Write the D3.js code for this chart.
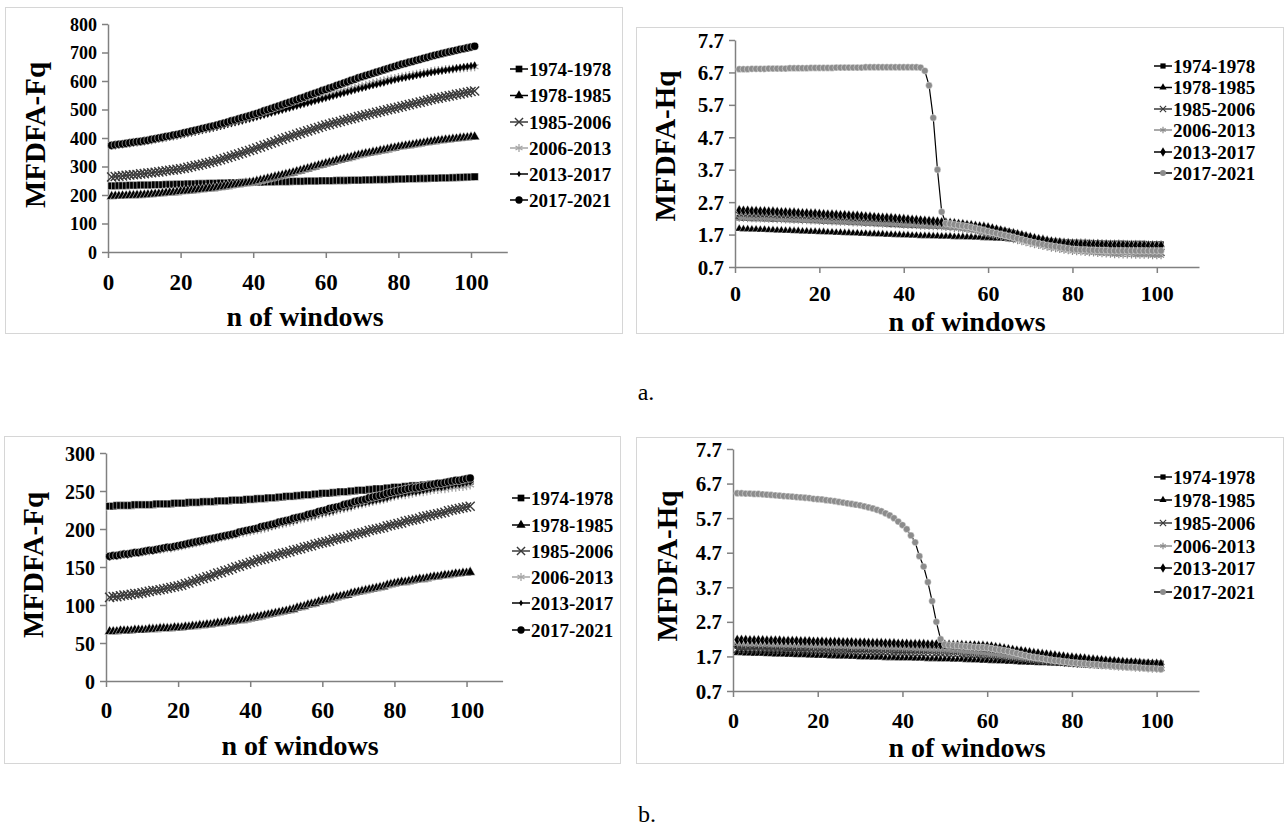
<!DOCTYPE html>
<html><head><meta charset="utf-8">
<script src="https://cdn.jsdelivr.net/npm/d3@7"></script>
<style>body{margin:0;background:#fff}svg{display:block}
svg text{font-family:"Liberation Serif","Times New Roman","DejaVu Serif",serif;}
</style>
</head><body>
<script>
// ---------------- DATA ----------------
const seriesNames = ["1974-1978","1978-1985","1985-2006","2006-2013","2013-2017","2017-2021"];
const xTicks = [0,20,40,60,80,100];
const fqTicksA = [0,100,200,300,400,500,600,700,800];
const fqTicksB = [0,50,100,150,200,250,300];
const hqTicks = [0.7,1.7,2.7,3.7,4.7,5.7,6.7,7.7];
const firstWindow = 1; // x of first point (n of windows = 1..101)

// panel a, MFDFA-Fq
const aFq1974 = [232,232,233,233,233,234,234,234,235,235,235,235,236,236,236,237,237,237,238,238,238,239,239,239,240,240,240,241,241,241,242,242,242,243,243,243,244,244,244,245,245,245,245,246,246,246,247,247,247,247,248,248,248,248,249,249,249,249,250,250,250,250,251,251,251,251,252,252,252,252,253,253,253,254,254,254,254,255,255,256,256,256,257,257,257,258,258,258,259,259,259,260,260,260,261,261,262,262,263,263,264];
const aFq1978 = [195,196,196,197,197,198,198,199,199,200,201,202,203,204,205,207,208,209,210,212,213,214,215,217,218,219,221,222,223,225,227,229,231,233,235,237,239,241,243,245,248,251,254,257,260,263,266,269,272,275,278,282,285,289,292,296,299,303,306,310,313,316,320,323,326,329,332,336,339,342,345,347,350,352,355,357,360,363,365,368,370,372,374,376,378,380,382,384,386,388,390,391,393,394,396,397,399,400,401,403,404];
const aFq1985 = [263,265,266,267,269,270,271,272,274,275,277,278,280,281,283,285,287,288,290,292,294,297,300,303,305,308,311,314,317,320,324,328,332,336,340,344,348,352,356,360,365,369,374,378,383,387,392,396,401,405,409,413,417,421,425,429,433,437,441,445,448,452,455,458,462,465,468,471,475,478,481,484,487,490,493,496,499,502,505,508,511,514,517,520,523,526,529,532,535,538,540,543,545,548,550,553,555,558,560,563,565];
const aFq2006 = [374,376,377,379,381,383,385,386,388,390,392,394,397,399,401,403,405,408,410,412,415,418,421,424,427,429,432,435,438,441,444,448,451,454,458,461,464,468,471,475,479,482,486,489,493,497,500,504,508,512,516,519,523,527,530,534,537,541,544,548,551,555,558,562,565,569,572,575,579,582,585,588,592,595,598,601,604,607,609,612,614,617,619,621,624,626,628,630,633,635,637,638,640,641,642,644,645,646,647,649,650];
const aFq2013 = [372,373,375,377,379,380,382,384,385,387,389,391,394,396,398,401,403,405,408,410,413,416,418,421,424,427,430,432,435,438,441,444,448,451,454,457,460,464,467,470,474,477,481,484,488,491,495,498,502,505,509,512,516,519,523,526,530,533,537,540,544,547,551,554,558,561,565,568,572,575,578,582,585,588,591,594,598,601,604,607,610,612,615,617,620,622,625,627,630,632,634,636,638,640,642,645,647,649,651,653,655];
const aFq2017 = [374,376,378,379,381,383,385,387,388,390,392,395,397,400,402,405,407,410,412,415,418,421,424,427,430,433,436,439,442,445,449,452,456,460,463,467,471,474,478,482,486,490,495,499,503,508,512,516,521,525,530,534,539,543,548,552,557,561,566,570,575,579,584,588,593,597,602,606,611,615,619,623,627,631,635,639,643,647,651,655,659,662,666,669,673,676,680,683,687,690,693,696,699,702,705,708,711,713,716,719,722];

// panel a, MFDFA-Hq
const aHq1974 = [2.22,2.21,2.21,2.20,2.20,2.20,2.19,2.19,2.18,2.18,2.18,2.17,2.17,2.16,2.16,2.15,2.15,2.14,2.14,2.13,2.12,2.12,2.11,2.11,2.10,2.10,2.09,2.08,2.08,2.07,2.06,2.06,2.05,2.04,2.04,2.03,2.02,2.02,2.01,2.00,2.00,1.99,1.99,1.98,1.98,1.97,1.97,1.96,1.96,1.95,1.94,1.94,1.93,1.93,1.92,1.91,1.91,1.90,1.89,1.88,1.87,1.85,1.83,1.81,1.78,1.75,1.71,1.68,1.64,1.60,1.57,1.55,1.53,1.51,1.50,1.49,1.48,1.47,1.47,1.46,1.46,1.45,1.45,1.45,1.44,1.44,1.44,1.43,1.43,1.43,1.43,1.43,1.42,1.42,1.42,1.42,1.42,1.41,1.41,1.41,1.41];
const aHq1978 = [1.88,1.87,1.87,1.86,1.86,1.85,1.85,1.84,1.84,1.83,1.83,1.82,1.82,1.81,1.81,1.80,1.80,1.79,1.79,1.78,1.78,1.77,1.77,1.76,1.76,1.75,1.75,1.74,1.74,1.73,1.73,1.72,1.72,1.71,1.71,1.70,1.70,1.69,1.69,1.68,1.68,1.67,1.67,1.66,1.66,1.66,1.65,1.65,1.64,1.64,1.64,1.63,1.63,1.63,1.62,1.62,1.61,1.61,1.60,1.60,1.59,1.58,1.58,1.57,1.56,1.55,1.55,1.54,1.53,1.52,1.51,1.51,1.50,1.49,1.49,1.48,1.47,1.46,1.46,1.45,1.45,1.44,1.44,1.43,1.43,1.43,1.42,1.42,1.41,1.41,1.41,1.40,1.40,1.40,1.40,1.39,1.39,1.39,1.39,1.38,1.38];
const aHq1985 = [2.30,2.30,2.29,2.29,2.28,2.28,2.28,2.27,2.27,2.26,2.25,2.25,2.24,2.24,2.23,2.23,2.22,2.21,2.21,2.20,2.19,2.19,2.18,2.18,2.17,2.17,2.16,2.15,2.15,2.14,2.13,2.12,2.12,2.11,2.10,2.10,2.09,2.08,2.08,2.07,2.06,2.06,2.05,2.04,2.04,2.03,2.02,2.02,2.01,2.00,1.99,1.98,1.97,1.95,1.94,1.93,1.91,1.89,1.87,1.85,1.82,1.79,1.76,1.73,1.70,1.67,1.64,1.61,1.58,1.55,1.52,1.49,1.46,1.43,1.41,1.38,1.36,1.34,1.32,1.30,1.29,1.28,1.27,1.26,1.25,1.24,1.23,1.22,1.21,1.20,1.20,1.19,1.19,1.18,1.18,1.17,1.17,1.16,1.16,1.15,1.15];
const aHq2006 = [2.20,2.20,2.19,2.19,2.18,2.18,2.18,2.17,2.17,2.16,2.16,2.15,2.15,2.14,2.14,2.13,2.13,2.12,2.12,2.11,2.10,2.10,2.09,2.09,2.08,2.08,2.07,2.06,2.06,2.05,2.04,2.04,2.03,2.03,2.02,2.02,2.01,2.00,2.00,1.99,1.98,1.98,1.97,1.96,1.96,1.95,1.94,1.94,1.93,1.92,1.91,1.89,1.88,1.86,1.84,1.82,1.80,1.77,1.75,1.72,1.69,1.66,1.63,1.60,1.57,1.54,1.51,1.48,1.45,1.42,1.39,1.36,1.33,1.31,1.28,1.26,1.24,1.22,1.20,1.18,1.17,1.16,1.15,1.14,1.13,1.12,1.11,1.10,1.09,1.08,1.08,1.07,1.07,1.07,1.06,1.06,1.06,1.06,1.05,1.05,1.05];
const aHq2013 = [2.45,2.44,2.44,2.43,2.43,2.42,2.42,2.41,2.41,2.40,2.39,2.39,2.38,2.38,2.37,2.36,2.36,2.35,2.35,2.34,2.33,2.32,2.32,2.31,2.30,2.30,2.29,2.28,2.28,2.27,2.26,2.25,2.24,2.23,2.22,2.22,2.21,2.20,2.19,2.18,2.17,2.16,2.15,2.14,2.13,2.12,2.11,2.10,2.08,2.07,2.06,2.05,2.03,2.02,2.00,1.99,1.97,1.95,1.94,1.92,1.89,1.86,1.83,1.80,1.77,1.74,1.71,1.68,1.65,1.62,1.59,1.56,1.54,1.51,1.49,1.47,1.46,1.44,1.43,1.42,1.42,1.41,1.41,1.40,1.40,1.40,1.39,1.39,1.38,1.38,1.38,1.38,1.37,1.37,1.37,1.37,1.37,1.36,1.36,1.36,1.36];
const aHq2017 = [6.80,6.80,6.80,6.81,6.81,6.81,6.81,6.82,6.82,6.82,6.82,6.82,6.83,6.83,6.83,6.83,6.83,6.84,6.84,6.84,6.84,6.84,6.84,6.85,6.85,6.85,6.85,6.85,6.85,6.85,6.86,6.86,6.86,6.86,6.86,6.86,6.86,6.86,6.86,6.86,6.86,6.86,6.86,6.85,6.75,6.30,5.30,3.70,2.40,2.05,2.03,2.01,1.99,1.97,1.95,1.93,1.90,1.87,1.84,1.80,1.77,1.74,1.71,1.68,1.65,1.62,1.58,1.55,1.51,1.48,1.45,1.42,1.40,1.37,1.35,1.33,1.31,1.29,1.27,1.25,1.24,1.23,1.23,1.22,1.22,1.21,1.21,1.21,1.20,1.20,1.20,1.20,1.20,1.20,1.20,1.20,1.20,1.20,1.20,1.20,1.20];

// panel b, MFDFA-Fq
const bFq1974 = [230,230,231,231,231,231,231,232,232,232,232,232,232,233,233,233,233,233,234,234,234,234,235,235,235,235,236,236,236,236,237,237,237,237,238,238,238,238,239,239,239,240,240,240,241,241,241,242,242,243,243,243,244,244,245,245,245,246,246,247,247,247,248,248,249,249,249,250,250,251,251,251,252,252,253,253,253,254,254,255,255,255,256,256,257,257,257,258,258,259,259,259,260,260,260,261,261,262,262,262,263];
const bFq1978 = [65,65,65,66,66,66,66,67,67,67,67,68,68,68,69,69,69,69,70,70,70,71,71,72,72,73,73,74,74,75,76,76,77,78,78,79,80,80,81,82,83,84,85,86,87,88,89,90,91,92,93,94,96,97,98,100,101,102,104,105,106,107,109,110,111,112,113,115,116,117,118,119,120,121,122,123,124,126,127,128,129,130,130,131,132,133,134,134,135,136,137,137,138,139,139,140,141,141,142,142,143];
const bFq1985 = [110,111,111,112,113,113,114,115,115,116,117,118,119,119,120,121,122,123,124,125,126,128,129,131,132,134,135,137,138,140,142,143,145,146,148,150,151,153,154,156,157,159,160,161,163,164,165,167,168,169,170,172,173,174,176,177,178,180,181,182,183,184,186,187,188,189,190,192,193,194,195,196,198,199,200,201,202,204,205,206,207,208,210,211,212,213,214,216,217,218,219,220,221,222,224,225,226,227,228,229,230];
const bFq2006 = [164,165,165,166,167,167,168,169,169,170,171,171,172,173,173,174,175,175,176,177,178,179,180,181,182,183,184,185,186,187,188,189,190,191,192,193,194,195,196,197,198,199,200,201,202,204,205,206,207,208,209,210,212,213,214,215,216,217,219,220,221,222,223,225,226,227,228,229,231,232,233,234,235,236,237,238,239,240,242,243,244,245,245,246,247,248,249,249,250,251,252,252,253,253,254,255,255,256,256,257,258];
const bFq2013 = [163,164,164,165,166,166,167,168,168,169,170,171,171,172,173,174,175,175,176,177,178,179,180,181,182,183,184,185,186,187,188,189,190,191,192,193,195,196,197,198,199,200,201,202,203,204,205,207,208,209,210,211,212,214,215,216,217,218,220,221,222,223,224,226,227,228,229,230,232,233,234,235,236,237,238,239,240,241,243,244,245,246,247,248,249,249,250,251,252,253,254,255,255,256,257,258,259,259,260,261,262];
const bFq2017 = [164,165,165,166,167,167,168,169,169,170,171,172,172,173,174,175,176,176,177,178,179,180,181,182,183,184,185,186,187,188,189,190,191,192,193,194,196,197,198,199,200,201,203,204,205,206,207,209,210,211,212,214,215,216,217,219,220,221,223,224,225,227,228,229,230,232,233,234,236,237,238,239,241,242,243,244,245,247,248,249,250,251,252,253,254,254,255,256,257,258,259,260,260,261,262,263,264,264,265,266,267];

// panel b, MFDFA-Hq
const bHq1974 = [2.00,2.00,2.00,1.99,1.99,1.99,1.99,1.98,1.98,1.98,1.98,1.98,1.97,1.97,1.97,1.97,1.97,1.96,1.96,1.96,1.96,1.96,1.95,1.95,1.95,1.95,1.95,1.94,1.94,1.94,1.94,1.94,1.93,1.93,1.93,1.93,1.93,1.92,1.92,1.92,1.92,1.92,1.91,1.91,1.91,1.91,1.91,1.90,1.90,1.90,1.90,1.90,1.89,1.89,1.89,1.89,1.89,1.88,1.88,1.88,1.87,1.86,1.84,1.83,1.82,1.81,1.80,1.78,1.77,1.76,1.75,1.74,1.72,1.71,1.70,1.69,1.68,1.66,1.65,1.64,1.63,1.62,1.61,1.60,1.59,1.59,1.58,1.57,1.56,1.55,1.55,1.54,1.54,1.53,1.53,1.52,1.52,1.51,1.51,1.50,1.50];
const bHq1978 = [1.80,1.80,1.79,1.79,1.78,1.78,1.78,1.77,1.77,1.76,1.76,1.76,1.75,1.75,1.74,1.74,1.74,1.73,1.73,1.72,1.72,1.72,1.71,1.71,1.70,1.70,1.70,1.69,1.69,1.68,1.68,1.68,1.67,1.67,1.67,1.66,1.66,1.66,1.65,1.65,1.65,1.65,1.64,1.64,1.64,1.63,1.63,1.63,1.62,1.62,1.62,1.61,1.61,1.61,1.60,1.60,1.59,1.59,1.58,1.58,1.57,1.57,1.56,1.56,1.55,1.55,1.54,1.53,1.53,1.52,1.52,1.51,1.51,1.51,1.50,1.50,1.49,1.49,1.48,1.48,1.48,1.47,1.47,1.47,1.47,1.46,1.46,1.46,1.45,1.45,1.45,1.45,1.44,1.44,1.44,1.44,1.44,1.43,1.43,1.43,1.43];
const bHq1985 = [1.90,1.90,1.90,1.89,1.89,1.89,1.89,1.88,1.88,1.88,1.88,1.88,1.87,1.87,1.87,1.87,1.87,1.86,1.86,1.86,1.86,1.86,1.85,1.85,1.85,1.85,1.85,1.84,1.84,1.84,1.84,1.84,1.83,1.83,1.83,1.83,1.83,1.82,1.82,1.82,1.82,1.82,1.81,1.81,1.81,1.81,1.81,1.80,1.80,1.80,1.79,1.78,1.78,1.77,1.76,1.75,1.75,1.74,1.73,1.72,1.71,1.70,1.69,1.67,1.66,1.65,1.64,1.63,1.61,1.60,1.59,1.58,1.57,1.56,1.55,1.54,1.53,1.52,1.51,1.50,1.49,1.48,1.48,1.47,1.46,1.46,1.45,1.44,1.44,1.43,1.43,1.42,1.42,1.41,1.41,1.40,1.40,1.39,1.39,1.38,1.38];
const bHq2006 = [2.05,2.05,2.04,2.04,2.04,2.03,2.03,2.03,2.02,2.02,2.02,2.01,2.01,2.01,2.00,2.00,2.00,1.99,1.99,1.99,1.99,1.98,1.98,1.98,1.97,1.97,1.97,1.96,1.96,1.96,1.96,1.95,1.95,1.95,1.94,1.94,1.94,1.93,1.93,1.93,1.92,1.92,1.91,1.91,1.90,1.90,1.89,1.89,1.88,1.88,1.87,1.86,1.85,1.84,1.83,1.82,1.81,1.80,1.79,1.78,1.76,1.75,1.73,1.71,1.70,1.68,1.67,1.65,1.64,1.62,1.61,1.60,1.58,1.57,1.56,1.55,1.54,1.52,1.51,1.50,1.49,1.48,1.47,1.46,1.45,1.44,1.43,1.42,1.41,1.40,1.39,1.38,1.38,1.37,1.36,1.35,1.35,1.34,1.33,1.33,1.32];
const bHq2013 = [2.18,2.18,2.18,2.17,2.17,2.17,2.17,2.16,2.16,2.16,2.16,2.15,2.15,2.15,2.15,2.14,2.14,2.14,2.13,2.13,2.13,2.12,2.12,2.12,2.12,2.11,2.11,2.11,2.10,2.10,2.10,2.09,2.09,2.09,2.09,2.08,2.08,2.08,2.07,2.07,2.07,2.06,2.06,2.06,2.06,2.05,2.05,2.05,2.04,2.04,2.04,2.03,2.03,2.03,2.02,2.02,2.02,2.01,2.01,2.00,1.99,1.97,1.95,1.93,1.91,1.89,1.87,1.86,1.84,1.82,1.80,1.79,1.77,1.76,1.74,1.73,1.71,1.70,1.68,1.67,1.66,1.65,1.64,1.62,1.61,1.60,1.59,1.58,1.57,1.56,1.55,1.54,1.53,1.53,1.52,1.51,1.50,1.50,1.49,1.49,1.48];
const bHq2017 = [6.42,6.42,6.41,6.41,6.40,6.40,6.39,6.38,6.37,6.36,6.35,6.34,6.33,6.32,6.31,6.30,6.29,6.28,6.26,6.25,6.24,6.22,6.21,6.19,6.17,6.15,6.13,6.11,6.09,6.07,6.04,6.01,5.98,5.94,5.90,5.84,5.78,5.70,5.60,5.50,5.38,5.20,5.00,4.60,4.30,3.85,3.30,2.70,2.20,2.05,2.03,2.02,2.01,2.00,1.99,1.98,1.97,1.96,1.96,1.95,1.93,1.91,1.89,1.87,1.85,1.82,1.79,1.76,1.73,1.70,1.68,1.66,1.64,1.62,1.60,1.58,1.57,1.55,1.54,1.52,1.51,1.50,1.49,1.48,1.47,1.46,1.45,1.44,1.43,1.42,1.41,1.40,1.39,1.39,1.38,1.37,1.36,1.35,1.35,1.34,1.33];

// ---------------- DRAWING ----------------
const svg = d3.select("body").append("svg").attr("width",1288).attr("height",829);

// marker styles per series (Fq and Hq variants)
const styleFq = [
  {sym:d3.symbolSquare,   size:56, fill:"#000", stroke:"#fff", sw:0.5, line:"#000"},
  {sym:d3.symbolTriangle, size:46, fill:"#000", stroke:"#fff", sw:0.5, line:"#000"},
  {sym:d3.symbolX,        size:56, fill:"none", stroke:"#3a3a3a", sw:1.4, line:"#3a3a3a"},
  {sym:d3.symbolAsterisk, size:56, fill:"none", stroke:"#a6a6a6", sw:1.3, line:"#a6a6a6"},
  {sym:d3.symbolDiamond,  size:16, fill:"#000", stroke:"#000", sw:0.3, line:"#000"},
  {sym:d3.symbolCircle,   size:52, fill:"#000", stroke:"#fff", sw:0.5, line:"#000"}
];
const styleHq = [
  {sym:d3.symbolSquare,   size:34, fill:"#000", stroke:"#fff", sw:0.4, line:"#000"},
  {sym:d3.symbolTriangle, size:28, fill:"#000", stroke:"#fff", sw:0.4, line:"#000"},
  {sym:d3.symbolX,        size:34, fill:"none", stroke:"#3a3a3a", sw:1.2, line:"#3a3a3a"},
  {sym:d3.symbolAsterisk, size:34, fill:"none", stroke:"#8c8c8c", sw:1.2, line:"#8c8c8c"},
  {sym:d3.symbolDiamond,  size:34, fill:"#000", stroke:"#fff", sw:0.4, line:"#000"},
  {sym:d3.symbolCircle,   size:36, fill:"#8c8c8c", stroke:"#fff", sw:0.4, line:"#000"}
];

const panels = [
  {box:[5,7,617,326], xr:[108,507.3], yr:[252,24], dom:[0,800], yt:fqTicksA, fmt:d3.format("d"),
   series:[aFq1974,aFq1978,aFq1985,aFq2006,aFq2013,aFq2017], st:styleFq,
   yFont:18, xFont:23, xLabY:282, yTitle:"MFDFA-Fq", yTitlePos:[35,135], xTitlePos:[305,316],
   legX:529, legY:[69,95.5,122,148,174,200], legFont:19},
  {box:[636,27,647,306], xr:[735,1199], yr:[267,40], dom:[0.7,7.7], yt:hqTicks, fmt:d3.format(".1f"),
   series:[aHq1974,aHq1978,aHq1985,aHq2006,aHq2013,aHq2017], st:styleHq,
   yFont:21, xFont:22, xLabY:293, yTitle:"MFDFA-Hq", yTitlePos:[665,146], xTitlePos:[967,321],
   legX:1173, legY:[66,87.5,109,130,152,173], legFont:19},
  {box:[4,436,616,327], xr:[106,502.6], yr:[681,453], dom:[0,300], yt:fqTicksB, fmt:d3.format("d"),
   series:[bFq1974,bFq1978,bFq1985,bFq2006,bFq2013,bFq2017], st:styleFq,
   yFont:20, xFont:23, xLabY:710, yTitle:"MFDFA-Fq", yTitlePos:[33,565], xTitlePos:[300,745],
   legX:531, legY:[498,525,551,577,603,630], legFont:19},
  {box:[636,437,647,326], xr:[733,1199], yr:[691,449], dom:[0.7,7.7], yt:hqTicks, fmt:d3.format(".1f"),
   series:[bHq1974,bHq1978,bHq1985,bHq2006,bHq2013,bHq2017], st:styleHq,
   yFont:21, xFont:22, xLabY:720, yTitle:"MFDFA-Hq", yTitlePos:[667,566], xTitlePos:[967,747],
   legX:1173, legY:[477,500,523,546,568,592], legFont:19}
];

function drawPanel(p){
  const g = svg.append("g");
  g.append("rect").attr("x",p.box[0]+0.5).attr("y",p.box[1]+0.5)
    .attr("width",p.box[2]).attr("height",p.box[3])
    .attr("fill","none").attr("stroke","#d6d6d6").attr("stroke-width",1);

  const x = d3.scaleLinear().domain([0,110]).range(p.xr);
  const y = d3.scaleLinear().domain(p.dom).range(p.yr);

  // x axis
  const gx = g.append("g").attr("transform",`translate(0,${p.yr[0]})`)
    .call(d3.axisBottom(x).tickValues(xTicks).tickSizeOuter(0).tickSizeInner(6).tickFormat(d3.format("d")));
  gx.attr("font-family",null);
  gx.select(".domain").attr("stroke","#808080").attr("stroke-width",1.5);
  gx.selectAll(".tick line").attr("stroke","#808080").attr("stroke-width",1.5);
  gx.selectAll(".tick text").attr("y",null).attr("dy",null)
    .attr("transform",`translate(0,${p.xLabY - p.yr[0]})`)
    .attr("dominant-baseline","central")
    .attr("font-weight","bold").attr("font-size",p.xFont).attr("fill","#000");

  // y axis
  const gy = g.append("g").attr("transform",`translate(${p.xr[0]},0)`)
    .call(d3.axisLeft(y).tickValues(p.yt).tickSizeOuter(0).tickSizeInner(6).tickPadding(5).tickFormat(p.fmt));
  gy.attr("font-family",null);
  gy.select(".domain").attr("stroke","#808080").attr("stroke-width",1.5);
  gy.selectAll(".tick line").attr("stroke","#808080").attr("stroke-width",1.5);
  gy.selectAll(".tick text").attr("dy",null).attr("dominant-baseline","central")
    .attr("font-weight","bold").attr("font-size",p.yFont).attr("fill","#000");

  // series
  p.series.forEach((vals,si)=>{
    const s = p.st[si];
    const pts = vals.map((v,i)=>[i+firstWindow, v]);
    g.append("path").datum(pts)
      .attr("d", d3.line().x(d=>x(d[0])).y(d=>y(d[1])))
      .attr("fill","none").attr("stroke",s.line).attr("stroke-width",1.2);
    const sym = d3.symbol().type(s.sym).size(s.size);
    g.append("g").selectAll("path").data(pts).join("path")
      .attr("transform",d=>`translate(${x(d[0])},${y(d[1])})`)
      .attr("d",sym)
      .attr("fill",s.fill).attr("stroke",s.stroke).attr("stroke-width",s.sw);
  });

  // legend
  seriesNames.forEach((name,i)=>{
    const s = p.st[i];
    const ly = p.legY[i];
    const lx = p.legX;
    g.append("line").attr("x1",lx-19).attr("x2",lx-1).attr("y1",ly).attr("y2",ly)
      .attr("stroke",s.line).attr("stroke-width",1.5);
    g.append("path").attr("transform",`translate(${lx-10},${ly})`)
      .attr("d",d3.symbol().type(s.sym).size(s.size*0.8)())
      .attr("fill",s.fill).attr("stroke",s.fill==="none"?s.stroke:"none").attr("stroke-width",s.sw);
    g.append("text").attr("x",lx).attr("y",ly).attr("dominant-baseline","central")
      .attr("font-weight","bold").attr("font-size",p.legFont)
      .attr("fill","#000").text(name);
  });

  // axis titles
  g.append("text").attr("transform",`translate(${p.yTitlePos[0]},${p.yTitlePos[1]}) rotate(-90)`)
    .attr("text-anchor","middle").attr("dominant-baseline","central")
    .attr("font-weight","bold").attr("font-size",29).attr("fill","#000")
    .text(p.yTitle);
  g.append("text").attr("x",p.xTitlePos[0]).attr("y",p.xTitlePos[1])
    .attr("text-anchor","middle").attr("dominant-baseline","central")
    .attr("font-weight","bold").attr("font-size",28).attr("fill","#000")
    .text("n of windows");
}
panels.forEach(drawPanel);

// sub-figure captions
svg.append("text").attr("x",646).attr("y",392).attr("text-anchor","middle").attr("dominant-baseline","central")
  .attr("font-size",24).attr("fill","#000").text("a.");
svg.append("text").attr("x",647).attr("y",814).attr("text-anchor","middle").attr("dominant-baseline","central")
  .attr("font-size",24).attr("fill","#000").text("b.");
</script>
</body></html>
